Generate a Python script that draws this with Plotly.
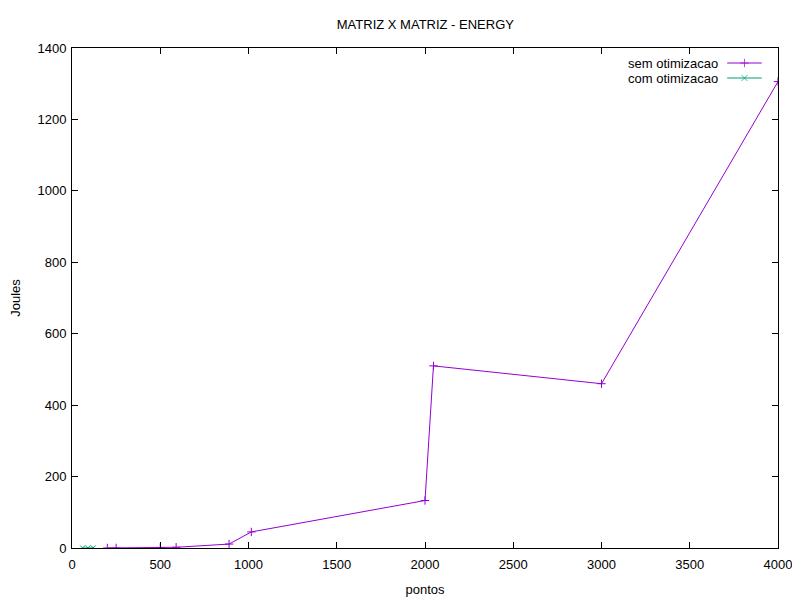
import plotly.graph_objects as go

# dados
sem_x = [200, 250, 500, 590, 890, 1016, 2000, 2048, 3000, 4000]
sem_y = [0.1, 0.2, 1.5, 2.0, 11, 45, 133, 510, 460, 1306]
com_x = [60, 90, 120]
com_y = [0.05, 0.1, 0.2]

roxo = "#9400d3"
verde = "#009e73"
fonte = dict(family="Liberation Sans, Arial, sans-serif", size=13, color="black")

fig = go.Figure()

fig.add_trace(go.Scatter(
    x=sem_x, y=sem_y, name="sem otimizacao", mode="lines+markers",
    line=dict(color=roxo, width=1),
    marker=dict(symbol="cross-thin", size=6, line=dict(width=1, color=roxo)),
))
fig.add_trace(go.Scatter(
    x=com_x, y=com_y, name="com otimizacao", mode="lines+markers",
    line=dict(color=verde, width=1),
    marker=dict(symbol="x-thin", size=5, line=dict(width=1, color=verde)),
))

# legenda estilo gnuplot (texto a esquerda, amostra a direita)
leg_nomes = ["sem otimizacao", "com otimizacao"]
leg_cores = [roxo, verde]
leg_simb = ["cross-thin", "x-thin"]
leg_y = [0.97, 0.94]
for nome, cor, simb, yy in zip(leg_nomes, leg_cores, leg_simb, leg_y):
    fig.add_annotation(x=0.918, y=yy, xref="paper", yref="paper", text=nome,
                       showarrow=False, xanchor="right", yanchor="middle", font=fonte)
    fig.add_trace(go.Scatter(
        x=[0.928, 0.9525, 0.977], y=[yy, yy, yy], xaxis="x2", yaxis="y2",
        mode="lines+markers", showlegend=False, hoverinfo="skip",
        line=dict(color=cor, width=1),
        marker=dict(symbol=simb, size=[0, 6, 0], line=dict(width=1, color=cor)),
    ))

eixo = dict(showgrid=False, zeroline=False, showline=True, linecolor="black",
            linewidth=1, mirror="ticks", ticks="inside", ticklen=6,
            tickcolor="black", tickfont=fonte, automargin=False)

# a pagina tem margem de 8px no body, por isso 792x592
fig.update_layout(
    width=792, height=592,
    plot_bgcolor="white", paper_bgcolor="white",
    margin=dict(l=64, r=22, t=40, b=52),
    showlegend=False,
    font=fonte,
    title=dict(text="MATRIZ X MATRIZ - ENERGY", x=0.527, xanchor="center",
               y=1 - 16 / 592, yanchor="middle", yref="container", font=fonte),
    xaxis=dict(eixo, range=[0, 4000], dtick=500, tick0=0, ticklabelstandoff=4,
               title=dict(text="pontos", font=fonte, standoff=14)),
    yaxis=dict(eixo, range=[0, 1400], dtick=200, tick0=0, ticklabelstandoff=2,
               title=dict(text="Joules", font=fonte, standoff=16)),
    xaxis2=dict(range=[0, 1], overlaying="x", visible=False),
    yaxis2=dict(range=[0, 1], overlaying="y", visible=False),
)

fig.write_html("out.html")
